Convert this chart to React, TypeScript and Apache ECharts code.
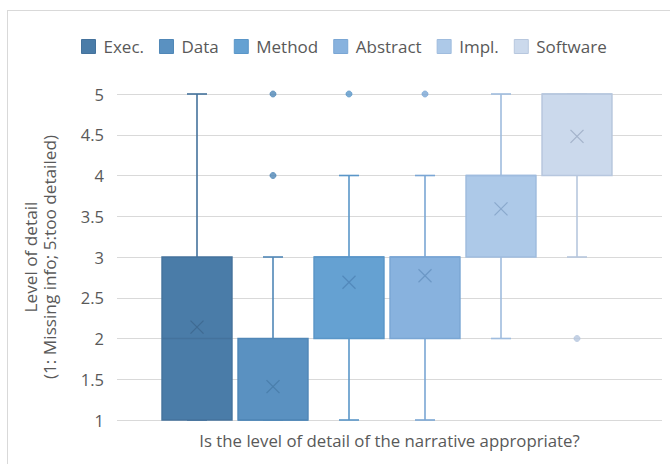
import React, { useEffect, useRef } from "react";
import * as echarts from "echarts";

// ---- data ----
const seriesNames = ["Exec.", "Data", "Method", "Abstract", "Impl.", "Software"];
const minValues = [1, 1, 1, 1, 2, 3];
const q1Values = [1, 1, 2, 2, 3, 4];
const medianValues = [2, 1, 3, 3, 4, 5];
const q3Values = [3, 2, 3, 3, 4, 5];
const maxValues = [5, 3, 4, 4, 5, 5];
const meanValues = [2.14, 1.41, 2.69, 2.77, 3.59, 4.48];
// [series index, value]
const outlierPoints: [number, number][] = [
  [1, 4],
  [1, 5],
  [2, 5],
  [3, 5],
  [5, 2],
];
const yMin = 1;
const yMax = 5;
const yStep = 0.5;
const xTitle = "Is the level of detail of the narrative appropriate?";
const yTitle = "Level of detail\n(1: Missing info; 5:too detailed)";

// ---- styles ----
const fills = ["#4a7ca8", "#5a91c1", "#65a1d2", "#88b2de", "#adc9e8", "#cbd9ec"];
const borders = ["#44729c", "#5087b7", "#5a96c8", "#7aa6d4", "#9fbcde", "#b7c7de"];
const marks = ["#3f6a92", "#4a7eab", "#5289bb", "#6d98c6", "#8aa8cc", "#a3b3ca"];
const FONT = "'Open Sans', Lato, sans-serif";
const TEXT = "#595959";

export default function App() {
  const ref = useRef<HTMLDivElement>(null);

  useEffect(() => {
    if (!ref.current) return;
    const chart = echarts.init(ref.current, undefined, { renderer: "svg" });

    const boxSeries = seriesNames.map((name, i) => ({
      type: "custom",
      name,
      xAxisIndex: 1,
      yAxisIndex: 1,
      itemStyle: { color: fills[i], borderColor: borders[i] },
      encode: { x: 0, y: [1, 2, 3, 4, 5] },
      data: [[i, minValues[i], q1Values[i], medianValues[i], q3Values[i], maxValues[i], meanValues[i]]],
      renderItem: (params: any, api: any) => {
        const x = api.value(0);
        const w = api.size([1, 0])[0] * 0.92;
        const cap = 10;
        const pMin = api.coord([x, api.value(1)]);
        const pQ1 = api.coord([x, api.value(2)]);
        const pMed = api.coord([x, api.value(3)]);
        const pQ3 = api.coord([x, api.value(4)]);
        const pMax = api.coord([x, api.value(5)]);
        const pMean = api.coord([x, api.value(6)]);
        const cx = pQ1[0];
        const ls = { stroke: borders[i], lineWidth: 1.6, fill: null };
        const xs = 6.5;
        return {
          type: "group",
          children: [
            { type: "line", shape: { x1: cx, y1: pQ3[1], x2: cx, y2: pMax[1] }, style: ls },
            { type: "line", shape: { x1: cx, y1: pMin[1], x2: cx, y2: pQ1[1] }, style: ls },
            { type: "line", shape: { x1: cx - cap, y1: pMax[1], x2: cx + cap, y2: pMax[1] }, style: ls },
            { type: "line", shape: { x1: cx - cap, y1: pMin[1], x2: cx + cap, y2: pMin[1] }, style: ls },
            {
              type: "rect",
              shape: { x: cx - w / 2, y: pQ3[1], width: w, height: pQ1[1] - pQ3[1] },
              style: { fill: fills[i], stroke: borders[i], lineWidth: 1.5 },
            },
            { type: "line", shape: { x1: cx - w / 2, y1: pMed[1], x2: cx + w / 2, y2: pMed[1] }, style: ls },
            {
              type: "line",
              shape: { x1: pMean[0] - xs, y1: pMean[1] - xs, x2: pMean[0] + xs, y2: pMean[1] + xs },
              style: { stroke: marks[i], lineWidth: 1.2 },
            },
            {
              type: "line",
              shape: { x1: pMean[0] - xs, y1: pMean[1] + xs, x2: pMean[0] + xs, y2: pMean[1] - xs },
              style: { stroke: marks[i], lineWidth: 1.2 },
            },
          ],
        };
      },
    }));

    const option: any = {
      animation: false,
      textStyle: { fontFamily: FONT },
      graphic: [
        { type: "line", shape: { x1: 7, y1: 10.5, x2: 670, y2: 10.5 }, style: { stroke: "#d9d9d9", lineWidth: 1 } },
        { type: "line", shape: { x1: 7.5, y1: 10, x2: 7.5, y2: 464 }, style: { stroke: "#d9d9d9", lineWidth: 1 } },
      ],
      legend: {
        left: 81,
        top: 38,
        padding: 0,
        icon: "rect",
        itemWidth: 14,
        itemHeight: 14,
        itemGap: 15,
        textStyle: { color: TEXT, fontSize: 17, fontFamily: FONT, padding: [0, 0, 0, 3] },
        data: seriesNames.map((name, i) => ({
          name,
          itemStyle: { color: fills[i], borderColor: borders[i], borderWidth: 1 },
        })),
      },
      grid: [
        { left: 117, right: 8, top: 94, bottom: 44 },
        { left: 159, width: 456, top: 94, bottom: 44 },
      ],
      xAxis: [
        {
          gridIndex: 0,
          type: "category",
          data: [""],
          axisLine: { show: false },
          axisTick: { show: false },
          axisLabel: { show: false },
          name: xTitle,
          nameLocation: "middle",
          nameGap: 12,
          nameTextStyle: { color: TEXT, fontSize: 16.8, fontFamily: FONT },
        },
        {
          gridIndex: 1,
          type: "category",
          data: seriesNames,
          axisLine: { show: false },
          axisTick: { show: false },
          axisLabel: { show: false },
        },
      ],
      yAxis: [
        {
          gridIndex: 0,
          type: "value",
          min: yMin,
          max: yMax,
          interval: yStep,
          axisLine: { show: false },
          axisTick: { show: false },
          axisLabel: { color: TEXT, fontSize: 16.5, margin: 13, fontFamily: FONT },
          splitLine: { lineStyle: { color: "#d9d9d9", width: 1 } },
          name: yTitle,
          nameLocation: "middle",
          nameRotate: 90,
          nameGap: 58,
          nameTextStyle: { color: TEXT, fontSize: 17.2, lineHeight: 19, fontFamily: FONT },
        },
        {
          gridIndex: 1,
          type: "value",
          min: yMin,
          max: yMax,
          interval: yStep,
          show: false,
        },
      ],
      series: [
        ...boxSeries,
        {
          type: "scatter",
          name: "outliers",
          xAxisIndex: 1,
          yAxisIndex: 1,
          symbol: "circle",
          symbolSize: 6,
          data: outlierPoints.map(([s, v]) => ({
            value: [s, v],
            itemStyle: { color: borders[s], borderColor: borders[s] },
          })),
        },
      ],
    };

    chart.setOption(option);
    return () => chart.dispose();
  }, []);

  return (
    <div
      ref={ref}
      style={{ position: "absolute", left: 0, top: 0, width: 670, height: 464, background: "#fff" }}
    />
  );
}
